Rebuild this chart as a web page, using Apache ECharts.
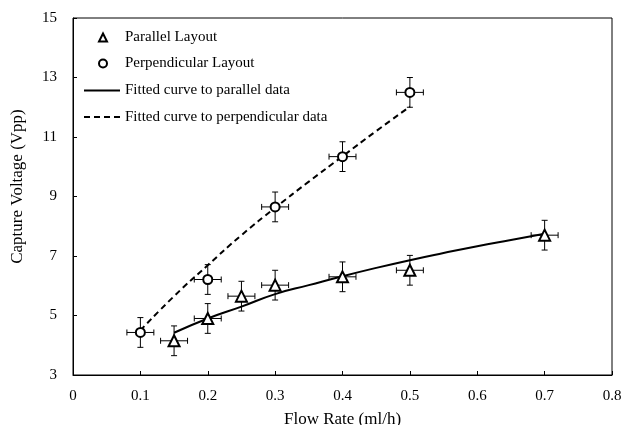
<!DOCTYPE html>
<html>
<head>
<meta charset="utf-8">
<script src="https://cdn.jsdelivr.net/npm/echarts@6/dist/echarts.min.js"></script>
<style>html,body{margin:0;padding:0;background:#fff}#c{width:625px;height:425px}</style>
</head>
<body>
<div id="c"></div>
<script>
// Measured data
var parX = [0.15, 0.2, 0.25, 0.3, 0.4, 0.5, 0.7];
var parY = [4.15, 4.9, 5.65, 6.02, 6.3, 6.52, 7.7];
var perpX = [0.1, 0.2, 0.3, 0.4, 0.5];
var perpY = [4.43, 6.21, 8.65, 10.34, 12.5];
var xErr = 0.02;
var yErr = 0.5;
// Fitted curves
var parFitX = [0.15, 0.2, 0.25, 0.3, 0.35, 0.4, 0.45, 0.5, 0.55, 0.6, 0.65, 0.7];
var parFitY = [4.42, 4.9, 5.3, 5.72, 6.02, 6.32, 6.6, 6.86, 7.1, 7.33, 7.54, 7.75];
var perpFitX = [0.1, 0.15, 0.2, 0.25, 0.3, 0.35, 0.4, 0.45, 0.5];
var perpFitY = [4.5, 5.65, 6.69, 7.7, 8.62, 9.5, 10.35, 11.2, 12.02];
var yTicks = [3, 5, 7, 9, 11, 13, 15];
var markerNames = ['Parallel Layout', 'Perpendicular Layout'];
var curveNames = ['Fitted curve to parallel data', 'Fitted curve to perpendicular data'];

var FONT = 'Liberation Serif';
function pairs(xs, ys) { return xs.map(function (x, i) { return [x, ys[i]]; }); }
function errData(xs, ys) { return xs.map(function (x, i) { return [x, ys[i], xErr, yErr]; }); }

function renderErr(params, api) {
  var x = api.value(0), y = api.value(1), ex = api.value(2), ey = api.value(3);
  var top = api.coord([x, y + ey]), bot = api.coord([x, y - ey]);
  var lef = api.coord([x - ex, y]), rig = api.coord([x + ex, y]);
  var c = 3;
  var st = { stroke: '#000', lineWidth: 1 };
  return {
    type: 'group',
    children: [
      { type: 'line', shape: { x1: top[0], y1: top[1], x2: bot[0], y2: bot[1] }, style: st },
      { type: 'line', shape: { x1: top[0] - c, y1: top[1], x2: top[0] + c, y2: top[1] }, style: st },
      { type: 'line', shape: { x1: bot[0] - c, y1: bot[1], x2: bot[0] + c, y2: bot[1] }, style: st },
      { type: 'line', shape: { x1: lef[0], y1: lef[1], x2: rig[0], y2: rig[1] }, style: st },
      { type: 'line', shape: { x1: lef[0], y1: lef[1] - c, x2: lef[0], y2: lef[1] + c }, style: st },
      { type: 'line', shape: { x1: rig[0], y1: rig[1] - c, x2: rig[0], y2: rig[1] + c }, style: st }
    ]
  };
}

var chart = echarts.init(document.getElementById('c'), null, { renderer: 'canvas' });
chart.setOption({
  animation: false,
  backgroundColor: '#fff',
  textStyle: { fontFamily: FONT, color: '#000' },
  grid: { left: 73, right: 13, top: 18, bottom: 50, show: true, borderColor: '#000', borderWidth: 1, outerBoundsMode: 'none', containLabel: false },
  legend: [
    {
      orient: 'vertical', left: 98, top: 30, padding: 0, itemWidth: 8, itemHeight: 8, itemGap: 11,
      textStyle: { fontFamily: FONT, fontSize: 15, color: '#000', padding: [0, 0, 0, 13] },
      data: markerNames
    },
    {
      orient: 'vertical', left: 83, top: 83, padding: 0, itemWidth: 36, itemHeight: 9, itemGap: 11.5,
      textStyle: { fontFamily: FONT, fontSize: 15, color: '#000' },
      data: curveNames.map(function (n) { return { name: n, itemStyle: { opacity: 0 }, lineStyle: { width: 2 } }; })
    }
  ],
  xAxis: {
    type: 'value', min: 0, max: 0.8, interval: 0.1,
    name: 'Flow Rate (ml/h)', nameLocation: 'middle', nameGap: 36,
    nameTextStyle: { fontFamily: FONT, fontSize: 17, color: '#000' },
    axisLine: { lineStyle: { color: '#000', width: 1 } },
    axisTick: { inside: true, length: 4, lineStyle: { color: '#000' } },
    axisLabel: { fontFamily: FONT, fontSize: 15, color: '#000', margin: 14 },
    splitLine: { show: false }
  },
  yAxis: {
    type: 'value', min: 3, max: 15,
    name: 'Capture Voltage (Vpp)', nameLocation: 'middle', nameGap: 47,
    nameTextStyle: { fontFamily: FONT, fontSize: 17, color: '#000', padding: [0, 0, 0, 20] },
    axisLine: { show: true, lineStyle: { color: '#000', width: 1 } },
    axisTick: { show: true, inside: true, length: 4, customValues: yTicks, lineStyle: { color: '#000' } },
    axisLabel: { fontFamily: FONT, fontSize: 15, color: '#000', margin: 16, customValues: yTicks },
    splitLine: { show: false }
  },
  series: [
    { type: 'custom', name: 'parErr', renderItem: renderErr, data: errData(parX, parY), z: 2, silent: true },
    { type: 'custom', name: 'perpErr', renderItem: renderErr, data: errData(perpX, perpY), z: 2, silent: true },
    {
      type: 'line', name: curveNames[0], data: pairs(parFitX, parFitY),
      smooth: true, showSymbol: false, symbol: 'none', z: 3,
      lineStyle: { color: '#000', width: 2 }, itemStyle: { color: '#000' }
    },
    {
      type: 'line', name: curveNames[1], data: pairs(perpFitX, perpFitY),
      smooth: true, showSymbol: false, symbol: 'none', z: 3,
      lineStyle: { color: '#000', width: 2, type: [6, 4] }, itemStyle: { color: '#000' }
    },
    {
      type: 'scatter', name: markerNames[0], data: pairs(parX, parY),
      symbol: 'triangle', symbolSize: 11, z: 4,
      itemStyle: { color: '#fff', borderColor: '#000', borderWidth: 2, opacity: 1 }
    },
    {
      type: 'scatter', name: markerNames[1], data: pairs(perpX, perpY),
      symbol: 'circle', symbolSize: 9, z: 4,
      itemStyle: { color: '#fff', borderColor: '#000', borderWidth: 2, opacity: 1 }
    }
  ]
});
</script>
</body>
</html>
